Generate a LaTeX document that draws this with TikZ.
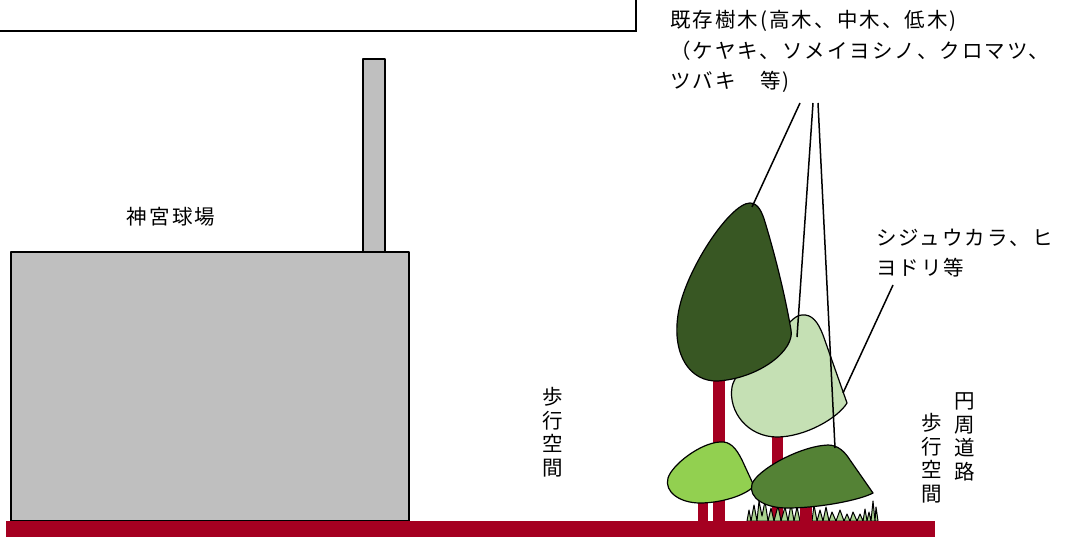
\documentclass[tikz,border=0pt]{standalone}
\usepackage{fontspec}
\newfontfamily\jp[LetterSpace=10]{Noto Sans CJK JP}
\definecolor{groundred}{HTML}{A50021}
\definecolor{stadiumgray}{HTML}{BFBFBF}
\definecolor{treedark}{HTML}{385723}
\definecolor{treepale}{HTML}{C5E0B4}
\definecolor{treelime}{HTML}{92D050}
\definecolor{treemid}{HTML}{548235}
\definecolor{grassgreen}{HTML}{A9D18E}
\tikzset{
  jptext/.style={font={\jp\fontsize{20.5}{30.5}\selectfont}, inner sep=0pt},
  vtext/.style={font={\jp\fontsize{20.5}{23.5}\selectfont}, inner sep=0pt, align=center},
  outline/.style={draw=black, line width=1.2pt, line join=round},
  trunk/.style={fill=groundred, draw=none},
  leader/.style={draw=black, line width=1.5pt},
}
\begin{document}
\begin{tikzpicture}[x=1pt,y=-1pt]
\useasboundingbox (0,0) rectangle (1065,540);

% frame at the top edge
\draw[line width=1.5pt] (-10,-10) rectangle (636,31);

% stadium building with its tower
\draw[outline, fill=stadiumgray] (363,59) rectangle (385,252);
\draw[outline, fill=stadiumgray] (11,252) rectangle (409,521);
\node[jptext] (stadium) at (171,217) {神宮球場};

% trunks
\fill[trunk] (713,378) rectangle (725,521);
\fill[trunk] (772,435) rectangle (783,521);
\fill[trunk] (698,498) rectangle (708,521);

% middle tree (pale)
\draw[outline, fill=treepale] (802,315) .. controls (812,314) and (818,322) .. (823,335)
  -- (847,403) .. controls (838,418) and (805,437) .. (777,437)
  .. controls (748,437) and (728,412) .. (732,387)
  .. controls (735,370) and (770,340) .. (790,322)
  .. controls (794,318) and (798,315) .. (802,315) -- cycle;
\coordinate (tipB) at (797,337);

% tall tree (dark)
\draw[outline, fill=treedark] (750,203) .. controls (758,203) and (762,212) .. (765,222)
  .. controls (775,255) and (785,295) .. (791,330)
  .. controls (795,350) and (760,378) .. (718,381)
  .. controls (690,382) and (672,355) .. (678,315)
  .. controls (684,272) and (730,203) .. (750,203) -- cycle;
\coordinate (tipA) at (752,207);

% small left tree (lime)
\draw[outline, fill=treelime] (720,442) .. controls (730,441) and (736,448) .. (742,460)
  -- (754,486) .. controls (745,496) and (720,503) .. (700,503)
  .. controls (680,503) and (664,492) .. (668,478)
  .. controls (672,465) and (700,443) .. (720,442) -- cycle;

% grass tufts
\draw[outline, line width=1pt, fill=grassgreen]
  (747,521) -- (749,510) -- (751,521) -- (754,505) -- (757,521) -- (759,501)
  -- (762,516) -- (765,501) -- (768,521) -- (771,508) -- (774,521) -- (778,506)
  -- (781,521) -- (785,507) -- (788,521) -- (791,504) -- (794,521) -- (797,507)
  -- (800,521) -- cycle;
\draw[outline, line width=1pt, fill=grassgreen]
  (812,521) -- (814,505) -- (817,521) -- (820,510) -- (823,521) -- (826,507)
  -- (829,521) -- (832,512) -- (836,521) -- (840,510) -- (844,521) -- (847,514)
  -- (850,521) -- (853,512) -- (857,521) -- (860,514) -- (863,521) -- (865,509)
  -- (867,521) -- (869,512) -- (871,521) -- (873,501) -- (875,521) -- (876,507)
  -- (878,521) -- cycle;
\fill[trunk] (800,505) rectangle (812,521);

% low right tree (mid green)
\draw[outline, fill=treemid] (828,445) .. controls (838,445) and (845,452) .. (850,460)
  -- (873,493) .. controls (860,500) and (820,508) .. (787,508)
  .. controls (765,508) and (748,498) .. (752,484)
  .. controls (757,470) and (800,446) .. (828,445) -- cycle;
\coordinate (tipC) at (835,448);

% ground
\fill[groundred] (6,521) rectangle (935,537);

% labels
\node[jptext, align=left, anchor=north west] (trees) at (670,10.5)
  {既存樹木(高木、中木、低木)\\（ケヤキ、ソメイヨシノ、クロマツ、\\ツバキ　等)};
\node[jptext, align=left, anchor=north west] (birds) at (876,228.5)
  {シジュウカラ、ヒ\\ヨドリ等};
\node[vtext] (walkL) at (553,432) {歩\\行\\空\\間};
\node[vtext] (road) at (965,437) {円\\周\\道\\路};
\node[vtext] (walkR) at (932,458) {歩\\行\\空\\間};

% leader lines
\coordinate (srcA) at (800,103);
\coordinate (srcB) at (813,103);
\coordinate (srcC) at (818,103);
\coordinate (srcD) at (893,285);
\coordinate (tipD) at (843,393);
\draw[leader] (srcA) -- (tipA);
\draw[leader] (srcB) -- (tipB);
\draw[leader] (srcC) -- (tipC);
\draw[leader] (srcD) -- (tipD);
\end{tikzpicture}
\end{document}
